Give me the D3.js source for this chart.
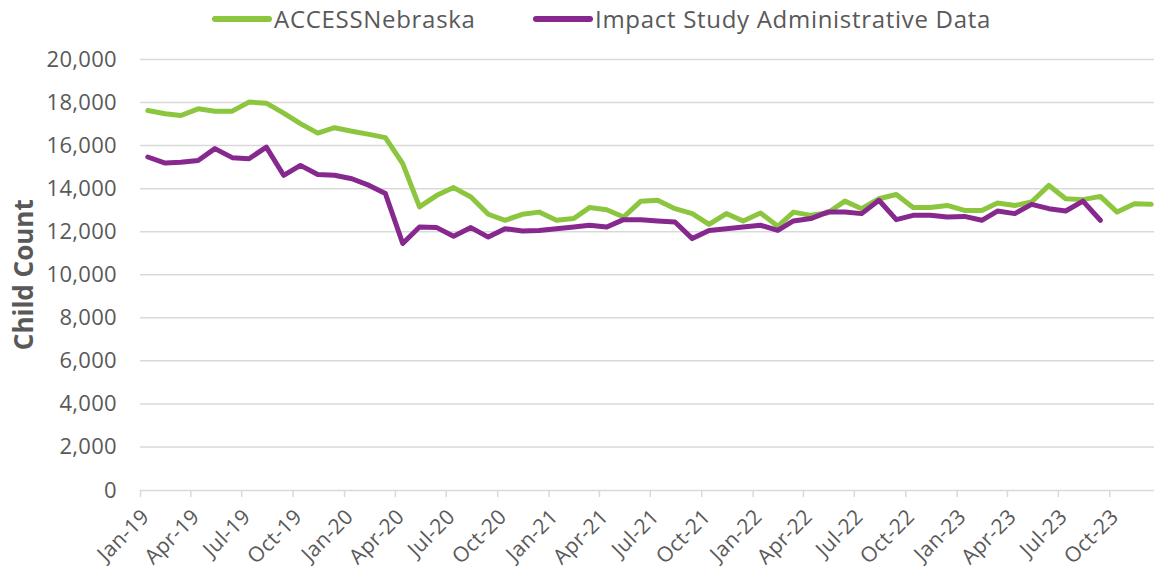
<!DOCTYPE html>
<html>
<head>
<meta charset="utf-8">
<script src="https://cdn.jsdelivr.net/npm/d3@7"></script>
<style>
  body { margin: 0; background: #fff; }
  svg { display: block; font-family: "Century Gothic", "Open Sans", sans-serif; }
</style>
</head>
<body>
<div id="chart"></div>
<script>
// monthly series, Jan-19 onward
const startMonth = new Date(2019, 0, 1)

const accessNebraska = [
  17630, 17480, 17400, 17710, 17600, 17600, 18020, 17970, 17510, 17020, 16580, 16830,
  16670, 16520, 16370, 15160, 13150, 13690, 14050, 13610, 12810, 12530, 12810, 12910,
  12530, 12610, 13120, 13020, 12680, 13420, 13460, 13070, 12840, 12340, 12840, 12500,
  12870, 12250, 12910, 12760, 12870, 13420, 13070, 13530, 13730, 13120, 13120, 13220,
  12990, 12990, 13330, 13220, 13380, 14150, 13530, 13490, 13640, 12910, 13300, 13270
]

const impactStudy = [
  15470, 15190, 15230, 15310, 15860, 15440, 15390, 15930, 14620, 15080, 14660, 14620,
  14460, 14150, 13770, 11450, 12220, 12190, 11790, 12190, 11750, 12140, 12030, 12060,
  12140, 12220, 12300, 12220, 12560, 12560, 12500, 12450, 11680, 12060, 12140, 12220,
  12300, 12060, 12500, 12610, 12910, 12910, 12840, 13460, 12560, 12760, 12760, 12680,
  12710, 12530, 12960, 12840, 13270, 13070, 12960, 13420, 12530
]

const seriesNames = ["ACCESSNebraska", "Impact Study Administrative Data"]
const seriesColors = ["#8cc63f", "#86288e"]
const yTicks = [0, 2000, 4000, 6000, 8000, 10000, 12000, 14000, 16000, 18000, 20000]
const yTitle = "Child Count"

const width = 1154
const height = 578
const plotLeft = 140
const plotRight = 1154
const plotTop = 59.5
const plotBottom = 490

// points sit mid-month on a date axis
const toDate = i => new Date(2019, i, 15)

const svg = d3.select("#chart").append("svg")
  .attr("width", width)
  .attr("height", height)

const x = d3.scaleTime()
  .domain([startMonth, new Date(2023, 11, 20)])
  .range([plotLeft, plotRight])

const y = d3.scaleLinear()
  .domain([0, 20000])
  .range([plotBottom, plotTop])

// gridlines
svg.append("g")
  .selectAll("line")
  .data(yTicks.slice(1))
  .enter()
  .append("line")
  .attr("x1", plotLeft)
  .attr("x2", plotRight)
  .attr("y1", d => y(d))
  .attr("y2", d => y(d))
  .attr("stroke", "#d9d9d9")
  .attr("stroke-width", 1.5)

// y axis labels
const yAxis = svg.append("g")
  .attr("transform", `translate(${plotLeft},0)`)
  .call(d3.axisLeft(y).tickValues(yTicks).tickSize(0).tickPadding(23).tickFormat(d3.format(",")))
yAxis.select(".domain").remove()
yAxis.selectAll("text")
  .attr("fill", "#595959")
  .style("font-size", "22px")
  .style("letter-spacing", "0.3px")
  .style("font-family", "'Century Gothic', 'Open Sans', sans-serif")

// x axis
const xAxis = svg.append("g")
  .attr("transform", `translate(0,${plotBottom})`)
  .call(d3.axisBottom(x)
    .ticks(d3.timeMonth.every(3))
    .tickSize(7)
    .tickSizeOuter(0)
    .tickFormat(d3.timeFormat("%b-%y")))
xAxis.select(".domain").attr("stroke", "#d9d9d9").attr("stroke-width", 1.5)
xAxis.selectAll(".tick line").attr("stroke", "#d9d9d9").attr("stroke-width", 1.5)
xAxis.selectAll("text")
  .attr("fill", "#595959")
  .style("font-size", "21px")
  .style("letter-spacing", "0.3px")
  .style("font-family", "'Century Gothic', 'Open Sans', sans-serif")
  .attr("text-anchor", "end")
  .attr("y", 0)
  .attr("dy", 0)
  .attr("transform", "translate(10,28) rotate(-45)")

// y title
svg.append("text")
  .attr("transform", `translate(33,${(plotTop + plotBottom) / 2}) rotate(-90)`)
  .attr("text-anchor", "middle")
  .attr("fill", "#595959")
  .style("font-size", "26px")
  .style("font-weight", "bold")
  .text(yTitle)

// lines
const line = d3.line()
  .x((d, i) => x(toDate(i)))
  .y(d => y(d))

;[accessNebraska, impactStudy].forEach((values, k) => {
  svg.append("path")
    .datum(values)
    .attr("fill", "none")
    .attr("stroke", seriesColors[k])
    .attr("stroke-width", 5)
    .attr("stroke-linejoin", "round")
    .attr("stroke-linecap", "round")
    .attr("d", line)
})

// legend
const legendX = [215, 536]
const legend = svg.append("g")
seriesNames.forEach((name, k) => {
  legend.append("line")
    .attr("x1", legendX[k])
    .attr("x2", legendX[k] + 54)
    .attr("y1", 19)
    .attr("y2", 19)
    .attr("stroke", seriesColors[k])
    .attr("stroke-width", 6)
    .attr("stroke-linecap", "round")
  legend.append("text")
    .attr("x", legendX[k] + 59)
    .attr("y", 28)
    .attr("fill", "#595959")
    .style("font-size", "24px")
    .style("letter-spacing", "0.7px")
    .text(name)
})
</script>
</body>
</html>
